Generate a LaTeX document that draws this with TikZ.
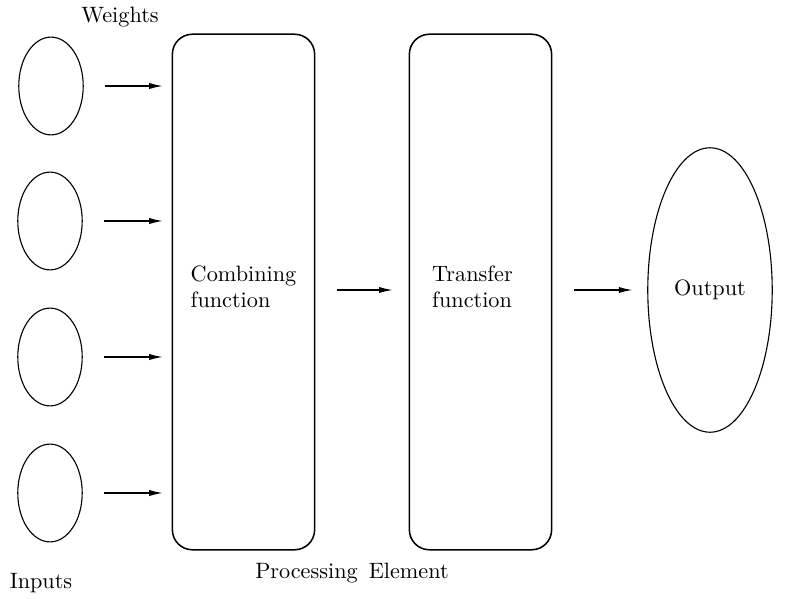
\documentclass[tikz,border=0pt]{standalone}
\usepackage{tikz}
\usetikzlibrary{shapes,arrows,positioning,calc,arrows.meta}

\tikzset{
  unit/.style={draw, ellipse, line width=0.5pt, inner sep=0pt},
  stage/.style={draw, rounded corners=9pt, line width=0.7pt, minimum width=64pt,
                minimum height=232pt, inner sep=0pt},
  flow/.style={-{Latex[length=6.5pt,width=2.8pt]}, line width=0.8pt}
}

\begin{document}
\begin{tikzpicture}[x=0.45pt, y=-0.45pt]
    \useasboundingbox (0,0) rectangle (790,599);

    % inputs on the left
    \node[unit, minimum width=29pt, minimum height=44pt] (in1) at (51,86) {};
    \node[unit, minimum width=29pt, minimum height=44pt] (in2) at (50,221) {};
    \node[unit, minimum width=29pt, minimum height=44pt] (in3) at (50,357) {};
    \node[unit, minimum width=29pt, minimum height=44pt] (in4) at (50,493) {};

    % the processing element
    \node[stage] (comb) at (243.5,292) {};
    \node[stage] (trans) at (480.5,292) {};
    \node[align=left] (combtxt) at ([yshift=2.3pt]comb.center) {Combining\\function};
    \node[align=left] (transtxt) at ([xshift=-3.6pt, yshift=2.3pt]trans.center) {Transfer\\function};

    \node[unit, minimum width=56pt, minimum height=128pt] (out) at (710,290) {Output};

    \node (weights) at (120,17) {Weights};
    \node (inputs) at (41,583) {Inputs};
    \node (pe) at (352,573) {Processing\ \,Element};

    % weighted inputs into the combining function
    \foreach \i in {1,...,4}
        \draw[flow, shorten <=9.5pt, shorten >=3.6pt] (in\i.east) -- (in\i.east -| comb.west);

    \draw[flow, shorten <=9.5pt, shorten >=6.8pt] (comb.east |- out.west) -- (trans.west |- out.west);
    \draw[flow, shorten <=9.5pt, shorten >=6.3pt] (trans.east |- out.west) -- (out.west);
\end{tikzpicture}
\end{document}
